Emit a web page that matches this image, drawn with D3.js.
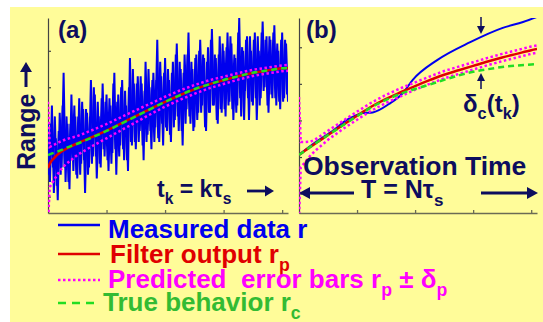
<!DOCTYPE html>
<html>
<head>
<meta charset="utf-8">
<script src="https://cdn.jsdelivr.net/npm/d3@7"></script>
<style>
  body { margin: 0; background: #fff; }
  svg { display: block; font-family: "Liberation Sans", Arial, sans-serif; font-weight: bold; }
</style>
</head>
<body>
<div class="chart"></div>
<script>
// ---- data ----
const tickX = [1, 2, 3, 4];
const tickY = [1, 2, 3, 4, 5];

// panel (a): noisy measurements, one every 1/30 time unit ...
const sampleStepA = 1 / 30;
const measuredA = [
  3.0,1.4,3.5,1.1,2.6,0.9,3.3,1.8,4.4,1.4,3.0,1.2,3.8,1.7,3.2,
  1.5,3.7,1.9,3.4,1.1,3.3,1.8,4.2,2.1,3.8,1.5,3.2,1.8,4.1,2.1,
  3.8,1.7,3.5,2.2,4.4,1.6,3.8,2.4,4.2,2.0,3.5,1.7,4.8,2.4,4.1,
  2.3,4.3,2.8,4.1,2.0,4.7,2.7,4.0,2.3,4.4,2.9,5.3,2.5,4.3,2.4,
  4.8,2.8,4.2,2.5,4.7,3.1,5.2,2.8,4.5,2.4,4.9,3.4,5.5,3.0,4.5,
  2.9,4.9,3.3,5.3,3.5,4.8,2.8,5.1,3.3,5.6,3.5,4.8,3.0,5.4,3.3,
  5.0,3.2,5.5,3.6,5.2,3.1,4.8,3.5,5.9,3.2,5.0,3.9,5.4,3.1,5.0,
  3.5,5.5,3.1,5.0,3.7,5.8,4.0,5.4,3.3,5.3,3.7,5.7,3.5,5.0,3.4,
  5.5,3.7,5.2,3.6
];
// ... and the samples half a step later
const measuredAMid = [
  1.6,3.0,1.8,3.2,1.3,2.8,1.6,3.5,1.8,3.2,1.4,3.0,2.0,3.5,1.6,
  3.2,1.6,3.6,2.0,3.4,1.6,3.2,1.9,4.0,2.1,3.6,1.9,3.7,2.3,3.6,
  2.0,3.7,1.9,4.1,2.3,3.6,2.1,4.0,2.3,3.9,2.0,4.0,2.5,4.5,2.5,
  4.1,2.5,4.3,2.4,3.9,2.5,4.5,2.8,4.2,2.5,4.2,2.6,4.7,3.0,4.4,
  2.9,4.5,2.7,4.4,2.9,4.9,3.2,4.7,2.8,4.4,3.0,4.9,3.2,4.7,2.8,
  4.8,3.1,5.0,3.3,4.9,2.9,4.7,3.3,5.3,3.5,4.9,3.1,4.9,3.4,5.2,
  3.4,5.1,3.5,5.4,3.4,4.9,3.3,5.5,3.7,5.1,3.1,5.3,3.7,5.4,3.6,
  5.3,3.7,5.4,3.5,5.5,3.9,5.3,3.5,5.4,3.8,5.5,3.7,5.2,3.6,5.3,
  3.6,5.3,3.8
];

const times = [0, 0.03, 0.1, 0.2, 0.3, 0.5, 0.75, 1, 1.25, 1.5, 1.75, 2, 2.25, 2.5, 2.75, 3, 3.25, 3.5, 3.75, 4, 4.1];

const trueA   = [2.14,2.16,2.20,2.26,2.33,2.45,2.62,2.80,3.00,3.20,3.40,3.60,3.78,3.95,4.08,4.20,4.30,4.40,4.46,4.52,4.53];
const filterA = [1.78,1.90,2.05,2.20,2.30,2.46,2.63,2.81,3.01,3.21,3.41,3.60,3.78,3.94,4.08,4.19,4.30,4.39,4.46,4.52,4.53];
const upperA  = [3.60,2.36,2.42,2.50,2.57,2.66,2.82,2.99,3.18,3.37,3.55,3.74,3.91,4.06,4.19,4.29,4.39,4.48,4.54,4.60,4.61];
const lowerA  = [0.30,1.26,1.45,1.70,1.88,2.14,2.38,2.60,2.82,3.04,3.26,3.47,3.65,3.82,3.97,4.09,4.21,4.31,4.38,4.44,4.45];

// panel (b)
const trueB   = [2.06,2.09,2.17,2.28,2.39,2.60,2.86,3.12,3.36,3.56,3.73,3.86,3.98,4.11,4.23,4.33,4.40,4.46,4.50,4.53,4.54];
const filterB = [2.06,2.09,2.17,2.28,2.39,2.60,2.87,3.13,3.38,3.59,3.77,3.94,4.10,4.25,4.37,4.49,4.61,4.72,4.82,4.92,4.95];
const upperB  = [3.64,2.41,2.41,2.42,2.50,2.72,2.98,3.24,3.49,3.70,3.88,4.04,4.20,4.35,4.47,4.59,4.71,4.82,4.92,5.02,5.05];
const lowerB  = [0.30,1.72,1.85,2.05,2.20,2.47,2.76,3.02,3.27,3.48,3.66,3.84,4.00,4.15,4.27,4.39,4.51,4.62,4.72,4.82,4.85];

const measTimesB = [0, 0.3, 0.6, 0.83, 1.1, 1.27, 1.55, 1.79, 1.96, 2.38, 2.95, 3.51, 3.86, 4.1];
const measuredB  = [2.06, 2.42, 2.74, 3.02, 3.2, 3.22, 3.45, 3.75, 4.11, 4.65, 5.14, 5.53, 5.69, 5.83];

// ---- drawing ----
const W = 543, H = 322;
const navy = "#0d0d5e";
const col = {blue: "#0000ee", red: "#e00000", magenta: "#ff00ff", green: "#22dd22"};

const svg = d3.select(".chart").append("svg")
    .attr("width", W)
    .attr("height", H);

svg.append("rect").attr("width", W).attr("height", H).attr("fill", "#fff");
svg.append("rect").attr("x", 10).attr("y", 7).attr("width", W - 10).attr("height", H - 7).attr("fill", "#fffc99");

const defs = svg.append("defs");

function panel(id, x0, x1, yDomain) {
  const x = d3.scaleLinear().domain([0, 4.1]).range([x0, x1]);
  const y = d3.scaleLinear().domain(yDomain).range([213, 18]);

  defs.append("clipPath").attr("id", id)
    .append("rect").attr("x", x0).attr("y", 18).attr("width", x1 - x0).attr("height", 195);

  const g = svg.append("g");

  g.append("g")
      .attr("transform", "translate(0,213)")
      .call(d3.axisBottom(x).tickValues(tickX).tickSizeInner(-3).tickSizeOuter(0).tickFormat(""))
      .call(a => a.selectAll("path,line").attr("stroke", "#6b6b55").attr("stroke-width", 1.3));

  g.append("g")
      .attr("transform", "translate(" + x0 + ",0)")
      .call(d3.axisLeft(y).tickValues(tickY).tickSizeInner(-3).tickSizeOuter(0).tickFormat(""))
      .call(a => a.selectAll("path,line").attr("stroke", "#444").attr("stroke-width", 1.2));

  const plot = g.append("g").attr("clip-path", "url(#" + id + ")");
  return {x, y, plot};
}

function series(p, ts, vs, color, width, dash, curve) {
  const line = d3.line()
      .x(d => p.x(d[0]))
      .y(d => p.y(d[1]))
      .curve(curve || d3.curveMonotoneX);
  p.plot.append("path")
      .datum(ts.map((t, i) => [t, vs[i]]))
      .attr("d", line)
      .attr("fill", "none")
      .attr("stroke", color)
      .attr("stroke-width", width)
      .attr("stroke-dasharray", dash || null);
}

// panel (a)
const pa = panel("clipA", 48, 288, [0.55, 5.9]);
series(pa, measuredA.map((v, i) => i * sampleStepA), measuredA, col.blue, 2, null, d3.curveLinear);
series(pa, measuredAMid.map((v, i) => (i + 0.5) * sampleStepA), measuredAMid, col.blue, 2, null, d3.curveLinear);
series(pa, times, upperA, col.magenta, 2.5, "2.5,2.5", d3.curveLinear);
series(pa, times, lowerA, col.magenta, 2.5, "2.5,2.5", d3.curveLinear);
series(pa, times, filterA, col.red, 2.5);
series(pa, times, trueA, col.green, 2.5, "6,4");

// panel (b)
const pb = panel("clipB", 299, 537, [0.47, 5.8]);
series(pb, measTimesB, measuredB, col.blue, 2);
series(pb, times, upperB, col.magenta, 2.5, "2.5,2.5", d3.curveLinear);
series(pb, times, lowerB, col.magenta, 2.5, "2.5,2.5", d3.curveLinear);
series(pb, times, filterB, col.red, 2.5);
series(pb, times, trueB, col.green, 2.5, "6,4");

// ---- labels ----
// parts: plain strings, or {sub: "..."} for a subscript
function label(x, y, size, color, parts) {
  const t = svg.append("text").attr("x", x).attr("y", y)
      .attr("font-size", size).attr("fill", color)
      .style("white-space", "pre");
  const shift = size * 0.3;
  let down = false;
  parts.forEach(p => {
    if (typeof p === "string") {
      t.append("tspan").attr("dy", down ? -shift : 0).text(p);
      down = false;
    } else {
      t.append("tspan").attr("font-size", size * 0.68).attr("dy", down ? 0 : shift).text(p.sub);
      down = true;
    }
  });
  return t;
}

label(58, 38, 24, navy, ["(a)"]);
label(306, 38, 24, navy, ["(b)"]);

svg.append("text")
    .attr("transform", "translate(35,170) rotate(-90)")
    .attr("font-size", 25)
    .attr("fill", navy)
    .text("Range");

label(157, 197, 23, navy, ["t", {sub: "k"}, " = k\u03c4", {sub: "s"}]);
label(303, 175, 26.5, navy, ["Observation Time"]);
label(361, 198, 25, navy, ["T = N\u03c4", {sub: "s"}]);
label(463, 112, 24, navy, ["\u03b4", {sub: "c"}, "(t", {sub: "k"}, ")"]);

// arrows
function arrow(x1, y1, x2, y2, w, head, hw) {
  const ang = Math.atan2(y2 - y1, x2 - x1);
  const bx = x2 - head * Math.cos(ang), by = y2 - head * Math.sin(ang);
  svg.append("line").attr("x1", x1).attr("y1", y1).attr("x2", bx).attr("y2", by)
      .attr("stroke", navy).attr("stroke-width", w);
  const px = -Math.sin(ang) * hw, py = Math.cos(ang) * hw;
  svg.append("path")
      .attr("d", "M" + x2 + "," + y2 + "L" + (bx + px) + "," + (by + py) + "L" + (bx - px) + "," + (by - py) + "Z")
      .attr("fill", navy);
}
arrow(26, 87, 26, 62, 3, 10, 6);      // Range ->
arrow(247, 191, 274, 191, 2.8, 9, 5.5); // t_k ->
arrow(354, 193, 299, 193, 3, 11, 6);
arrow(481, 193, 538, 193, 3, 11, 6);
arrow(481, 17, 481, 34, 1.5, 8, 4);
arrow(481, 89, 481, 73, 1.5, 8, 4);

// ---- legend ----
const legend = [
  {y: 225, color: col.blue, dash: null, tx: 108, ty: 238, tcol: "#0000ee", parts: ["Measured data r"]},
  {y: 254, color: col.red, dash: null, tx: 110, ty: 263, tcol: "#e00000", parts: ["Filter output r", {sub: "p"}]},
  {y: 280, color: col.magenta, dash: "2.5,2.5", tx: 108, ty: 288, tcol: "#ff00ff", parts: ["Predicted  error bars r", {sub: "p"}, " \u00b1 \u03b4", {sub: "p"}]},
  {y: 303, color: col.green, dash: "8,6", tx: 103, ty: 311, tcol: "#33bb33", parts: ["True behavior r", {sub: "c"}]}
];
legend.forEach(d => {
  svg.append("line").attr("x1", 58).attr("x2", 100).attr("y1", d.y).attr("y2", d.y)
      .attr("stroke", d.color).attr("stroke-width", 2.5).attr("stroke-dasharray", d.dash);
  label(d.tx, d.ty, 26, d.tcol, d.parts);
});
</script>
</body>
</html>
